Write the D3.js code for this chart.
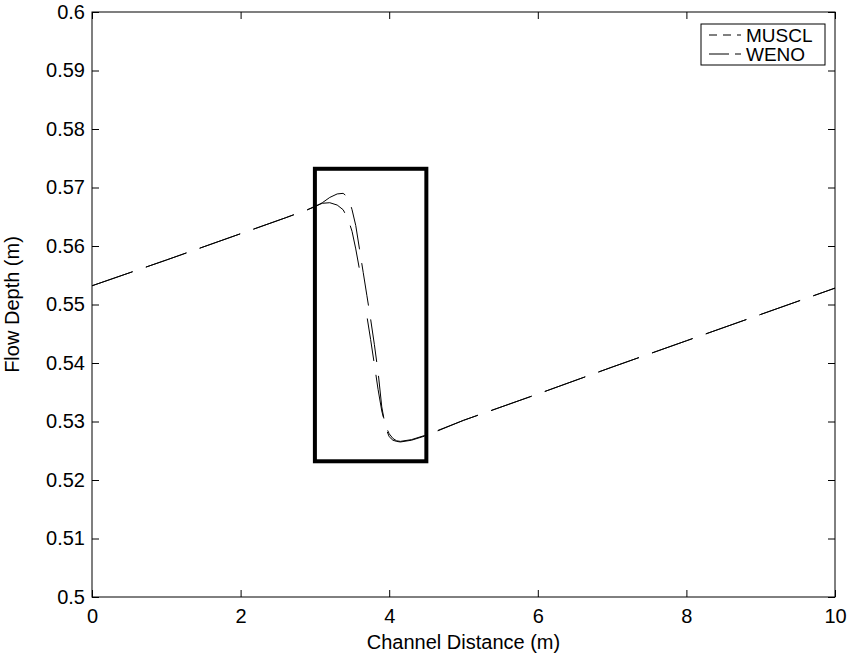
<!DOCTYPE html>
<html>
<head>
<meta charset="utf-8">
<script src="https://cdn.jsdelivr.net/npm/d3@7/dist/d3.min.js"></script>
<style>
  html, body { margin: 0; padding: 0; background: #fff; }
  svg { display: block; }
  text { font-family: "Liberation Sans", Arial, Helvetica, sans-serif; fill: #000; }
</style>
</head>
<body>
<svg id="chart" width="849" height="662"></svg>
<script>
// ---- data ----
const xTicks = [0, 2, 4, 6, 8, 10];
const yTicks = [0.5, 0.51, 0.52, 0.53, 0.54, 0.55, 0.56, 0.57, 0.58, 0.59, 0.6];
const yTickLabels = ["0.5", "0.51", "0.52", "0.53", "0.54", "0.55", "0.56", "0.57", "0.58", "0.59", "0.6"];
const seriesNames = ["MUSCL", "WENO"];

const distance = [0, 1, 2, 2.6, 2.9, 3.0, 3.1, 3.2, 3.3, 3.38, 3.45, 3.5, 3.55, 3.6, 3.65, 3.7, 3.75, 3.8, 3.85, 3.9, 3.95, 4.0, 4.05, 4.1, 4.15, 4.3, 4.5, 5, 6, 7, 8, 9, 10];
const musclDepth = [0.5532, 0.5576, 0.5621, 0.5648, 0.5662, 0.5668, 0.5673, 0.5674, 0.5670, 0.5662, 0.5645, 0.5625, 0.5595, 0.5560, 0.5520, 0.5480, 0.5440, 0.5398, 0.5355, 0.5318, 0.5293, 0.5279, 0.5271, 0.5267, 0.5266, 0.5269, 0.5277, 0.5302, 0.5347, 0.5393, 0.5438, 0.5483, 0.5528];
const wenoDepth  = [0.5532, 0.5576, 0.5621, 0.5648, 0.5662, 0.5667, 0.5674, 0.5683, 0.5689, 0.5690, 0.5683, 0.5662, 0.5635, 0.5595, 0.5555, 0.5515, 0.5475, 0.5432, 0.5385, 0.5325, 0.5290, 0.5274, 0.5268, 0.5266, 0.5265, 0.5268, 0.5276, 0.5302, 0.5347, 0.5393, 0.5438, 0.5483, 0.5528];

// highlight rectangle (data coordinates)
const boxX = [3.0, 4.5];
const boxY = [0.5232, 0.5732];

// ---- layout ----
const svg = d3.select("#chart");
const m = { left: 92, top: 12, right: 835, bottom: 597 };
const x = d3.scaleLinear().domain([0, 10]).range([m.left, m.right]);
const y = d3.scaleLinear().domain([0.5, 0.6]).range([m.bottom, m.top]);
const tickLen = 7;
const fontSize = 20;

// axes (ticks inward, mirrored)
const gx = svg.append("g").attr("transform", `translate(0,${m.bottom})`)
  .call(d3.axisBottom(x).tickValues(xTicks).tickSize(-tickLen).tickPadding(12).tickFormat(d3.format("d")));
const gxt = svg.append("g").attr("transform", `translate(0,${m.top})`)
  .call(d3.axisTop(x).tickValues(xTicks).tickSize(-tickLen).tickFormat(""));
const gy = svg.append("g").attr("transform", `translate(${m.left},0)`)
  .call(d3.axisLeft(y).tickValues(yTicks).tickSize(-tickLen).tickPadding(7).tickFormat((d, i) => yTickLabels[i]));
const gyr = svg.append("g").attr("transform", `translate(${m.right},0)`)
  .call(d3.axisRight(y).tickValues(yTicks).tickSize(-tickLen).tickFormat(""));

[gx, gxt, gy, gyr].forEach(g => {
  g.select(".domain").remove();
  g.selectAll(".tick line").attr("stroke", "#000").attr("stroke-width", 1);
  g.selectAll(".tick text").style("font-size", fontSize + "px").attr("fill", "#000");
});
gx.selectAll(".tick text").attr("dy", "0.71em");

// frame
svg.append("rect")
  .attr("x", m.left).attr("y", m.top)
  .attr("width", m.right - m.left).attr("height", m.bottom - m.top)
  .attr("fill", "none").attr("stroke", "#000").attr("stroke-width", 1);

// lines
const line = d3.line().x((d, i) => x(distance[i])).y(d => y(d));
const DASH = 43, GAP = 14, PERIOD = DASH + GAP;

// cumulative pixel length along a series up to vertex k
function arcLen(vals, k) {
  let s = 0;
  for (let i = 1; i <= k; i++) {
    const dx = x(distance[i]) - x(distance[i - 1]);
    const dy = y(vals[i]) - y(vals[i - 1]);
    s += Math.hypot(dx, dy);
  }
  return s;
}
// keep dash phases of both series aligned where the curves coincide again
const kJoin = distance.indexOf(4.5);
const kSplit = distance.indexOf(3.5);
const delta = arcLen(wenoDepth, kJoin) - arcLen(musclDepth, kJoin);
const extra = ((-delta % PERIOD) + PERIOD) % PERIOD;
const splitLen = arcLen(musclDepth, kSplit);
const totalM = arcLen(musclDepth, distance.length - 1);
const musclDash = [];
let pos = 0, inserted = false;
while (pos < totalM + PERIOD) {
  musclDash.push(DASH);
  pos += DASH;
  let g = GAP;
  if (!inserted && pos >= splitLen) { g += extra; inserted = true; }
  musclDash.push(g);
  pos += g;
}

svg.append("path").datum(musclDepth)
  .attr("d", line).attr("fill", "none").attr("stroke", "#000")
  .attr("stroke-width", 1).attr("stroke-dasharray", musclDash.join(","));
svg.append("path").datum(wenoDepth)
  .attr("d", line).attr("fill", "none").attr("stroke", "#000")
  .attr("stroke-width", 1).attr("stroke-dasharray", DASH + "," + GAP);

// highlight rectangle
svg.append("rect")
  .attr("x", x(boxX[0])).attr("y", y(boxY[1]))
  .attr("width", x(boxX[1]) - x(boxX[0])).attr("height", y(boxY[0]) - y(boxY[1]))
  .attr("fill", "none").attr("stroke", "#000").attr("stroke-width", 4);

// axis labels
svg.append("text")
  .attr("x", (m.left + m.right) / 2).attr("y", 649)
  .attr("text-anchor", "middle").style("font-size", fontSize + "px")
  .text("Channel Distance (m)");
svg.append("text")
  .attr("transform", `translate(19,${(m.top + m.bottom) / 2}) rotate(-90)`)
  .attr("text-anchor", "middle").style("font-size", fontSize + "px")
  .text("Flow Depth (m)");

// legend
const legendDashes = { MUSCL: "8,6", WENO: "20,6" };
const lg = svg.append("g");
const lgBox = { x0: 701, y0: 24, x1: 825, y1: 65 };
lg.append("rect")
  .attr("x", lgBox.x0).attr("y", lgBox.y0)
  .attr("width", lgBox.x1 - lgBox.x0).attr("height", lgBox.y1 - lgBox.y0)
  .attr("fill", "#fff").attr("stroke", "#000").attr("stroke-width", 1);
seriesNames.forEach((name, i) => {
  const cy = 35 + i * 19;
  lg.append("line")
    .attr("x1", 709).attr("x2", 741).attr("y1", cy).attr("y2", cy)
    .attr("stroke", "#000").attr("stroke-width", 1)
    .attr("stroke-dasharray", legendDashes[name]);
  lg.append("text")
    .attr("x", 746).attr("y", cy).attr("dy", "0.35em")
    .style("font-size", "19px")
    .text(name);
});
</script>
</body>
</html>
